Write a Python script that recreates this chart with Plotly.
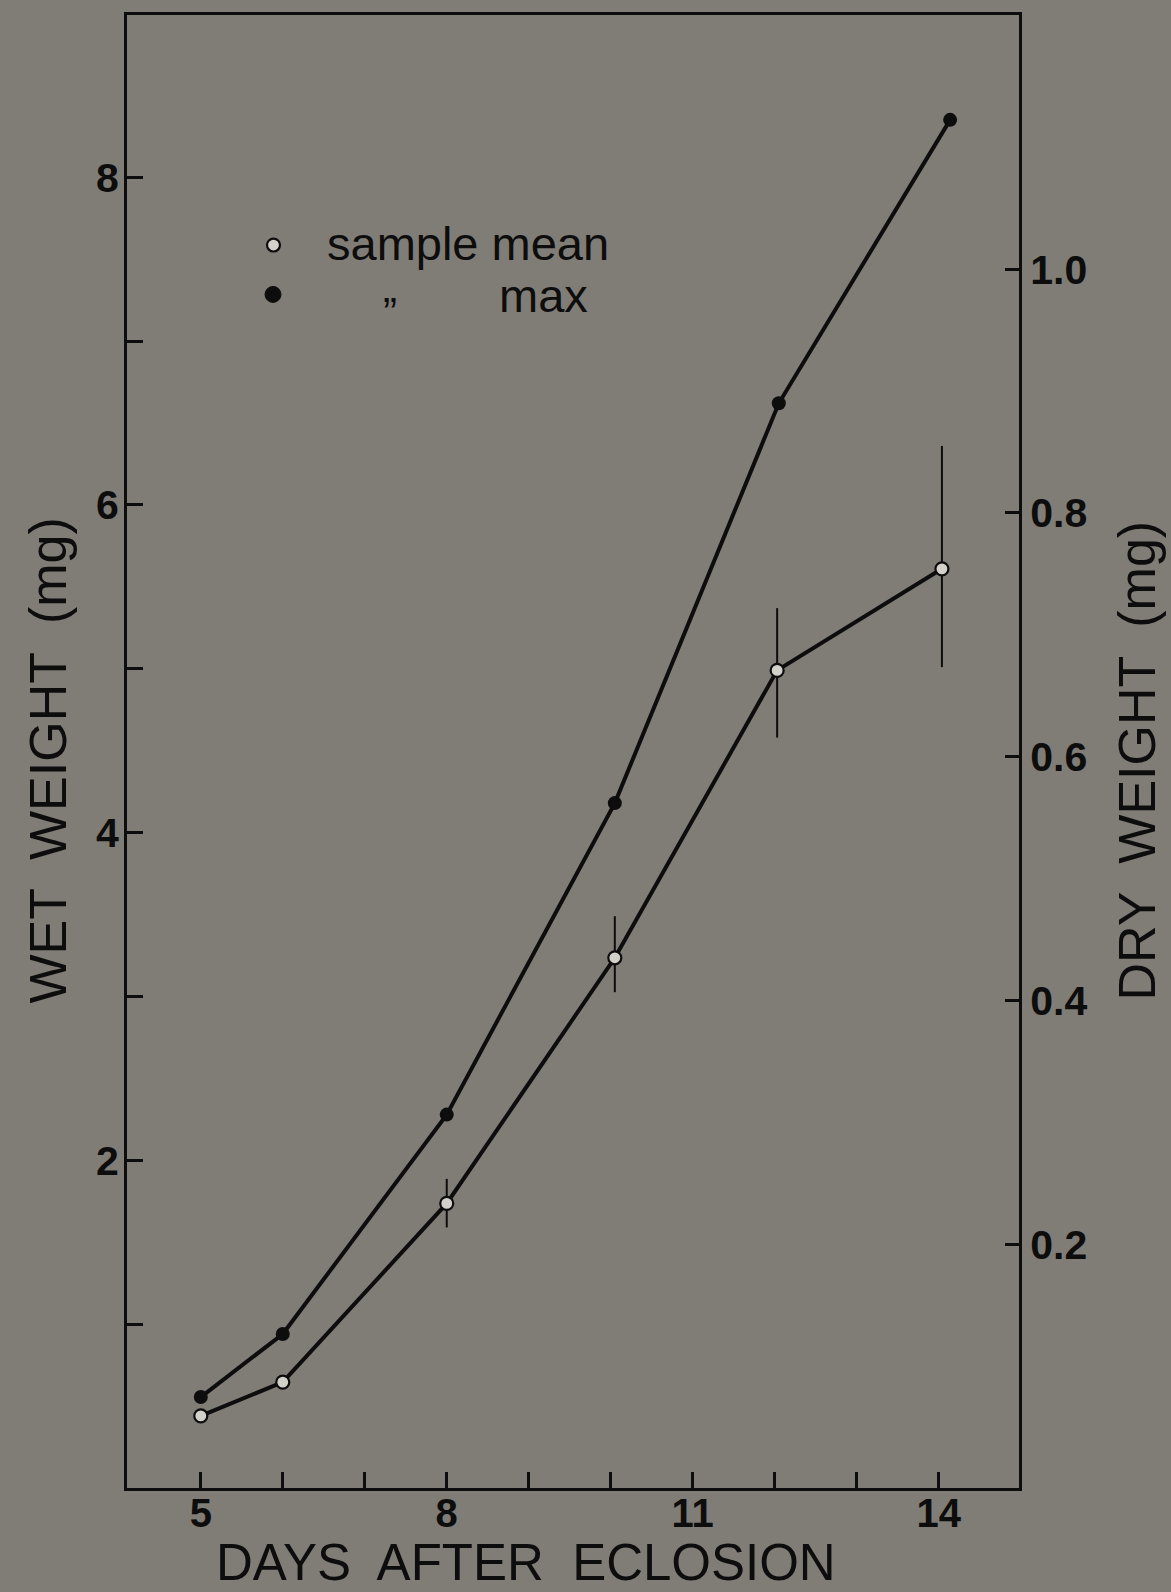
import plotly.graph_objects as go

# ---- data ----
days_mean = [5, 6, 8, 10.05, 12.03, 14.04]
wet_mean = [0.44, 0.646, 1.737, 3.236, 4.99, 5.61]
err_plus = [0, 0, 0.15, 0.254, 0.38, 0.75]
err_minus = [0, 0, 0.147, 0.21, 0.41, 0.60]

days_max = [5, 6, 8, 10.05, 12.05, 14.14]
wet_max = [0.555, 0.94, 2.279, 4.18, 6.62, 8.35]

x_tickvals = [5, 6, 7, 8, 9, 10, 11, 12, 13, 14]
x_ticktext = ["5", "", "", "8", "", "", "11", "", "", "14"]
y_tickvals = [1, 2, 3, 4, 5, 6, 7, 8]
y_ticktext = ["", "2", "", "4", "", "6", "", "8"]
y2_tickvals = [0.2, 0.4, 0.6, 0.8, 1.0]
y2_ticktext = ["0.2", "0.4", "0.6", "0.8", "1.0"]

BG = "#807d77"
INK = "#0d0d0d"
FONT = "Liberation Sans"

fig = go.Figure()

fig.add_trace(go.Scatter(
    x=days_max, y=wet_max, mode="lines+markers",
    line=dict(color=INK, width=4),
    marker=dict(symbol="circle", size=14, color=INK),
    showlegend=False, hoverinfo="skip"))

fig.add_trace(go.Scatter(
    x=days_mean, y=wet_mean, mode="lines+markers",
    line=dict(color=INK, width=4),
    marker=dict(symbol="circle", size=13, color="#d4d0ca",
                line=dict(color=INK, width=2.2)),
    error_y=dict(type="data", symmetric=False, array=err_plus,
                 arrayminus=err_minus, color=INK, thickness=2, width=0),
    showlegend=False, hoverinfo="skip"))

# empty trace so that the right (dry weight) axis is drawn
fig.add_trace(go.Scatter(x=[], y=[], yaxis="y2", showlegend=False))

L, R, T, B = 127, 1019, 12, 1488
W, H = 1171, 1592


def px(xp):
    return (xp - L) / (R - L)


def py(yp):
    return (B - yp) / (B - T)


fig.update_layout(
    width=W, height=H,
    margin=dict(l=L, r=W - R, t=T, b=H - B, pad=0),
    paper_bgcolor=BG, plot_bgcolor=BG,
    font=dict(family=FONT, color=INK),
    xaxis=dict(range=[4.1, 14.98], tickvals=x_tickvals, ticktext=x_ticktext,
               ticks="inside", ticklen=16, tickwidth=2.5, tickcolor=INK,
               showline=True, linewidth=3, linecolor=INK, mirror=True,
               showgrid=False, zeroline=False, ticklabelstandoff=-12,
               tickfont=dict(family=FONT, size=40, color=INK, weight="bold")),
    yaxis=dict(range=[0, 8.99], tickvals=y_tickvals, ticktext=y_ticktext,
               ticks="inside", ticklen=16, tickwidth=2.5, tickcolor=INK,
               showline=True, linewidth=3, linecolor=INK,
               showgrid=False, zeroline=False, ticklabelstandoff=-3,
               tickfont=dict(family=FONT, size=41, color=INK, weight="bold")),
    yaxis2=dict(range=[0, 1.2086], overlaying="y", side="right",
                tickvals=y2_tickvals, ticktext=y2_ticktext,
                ticks="inside", ticklen=14, tickwidth=2.5, tickcolor=INK,
                showline=True, linewidth=3, linecolor=INK,
                showgrid=False, zeroline=False,
                tickfont=dict(family=FONT, size=41, color=INK, weight="bold")),
)

ann = []
ann.append(dict(text="DAYS  AFTER  ECLOSION", x=px(526), y=py(1563),
                xref="paper", yref="paper", xanchor="center", yanchor="middle",
                showarrow=False, font=dict(family=FONT, size=51, color=INK)))
ann.append(dict(text="WET  WEIGHT  (mg)", x=px(48), y=py(759),
                xref="paper", yref="paper", xanchor="center", yanchor="middle",
                textangle=-90, showarrow=False,
                font=dict(family=FONT, size=52, color=INK)))
ann.append(dict(text="DRY  WEIGHT  (mg)", x=px(1137), y=py(759),
                xref="paper", yref="paper", xanchor="center", yanchor="middle",
                textangle=-90, showarrow=False,
                font=dict(family=FONT, size=52, color=INK)))
ann.append(dict(text="sample mean", x=px(325), y=py(241),
                xref="paper", yref="paper", xanchor="left", yanchor="middle",
                showarrow=False, font=dict(family=FONT, size=47, color=INK)))
ann.append(dict(text="\u201d", x=px(381), y=py(310),
                xref="paper", yref="paper", xanchor="left", yanchor="middle",
                showarrow=False, font=dict(family=FONT, size=42, color=INK)))
ann.append(dict(text="max", x=px(497), y=py(293),
                xref="paper", yref="paper", xanchor="left", yanchor="middle",
                showarrow=False, font=dict(family=FONT, size=47, color=INK)))
fig.update_layout(annotations=ann)

shapes = [
    dict(type="circle", xref="paper", yref="paper",
         x0=px(267), x1=px(280), y0=py(249), y1=py(236),
         line=dict(color=INK, width=2.2), fillcolor="#d4d0ca"),
    dict(type="circle", xref="paper", yref="paper",
         x0=px(265), x1=px(281), y0=py(300), y1=py(284),
         line=dict(color=INK, width=1), fillcolor=INK),
]
fig.update_layout(shapes=shapes)

fig.write_html("out.html")
